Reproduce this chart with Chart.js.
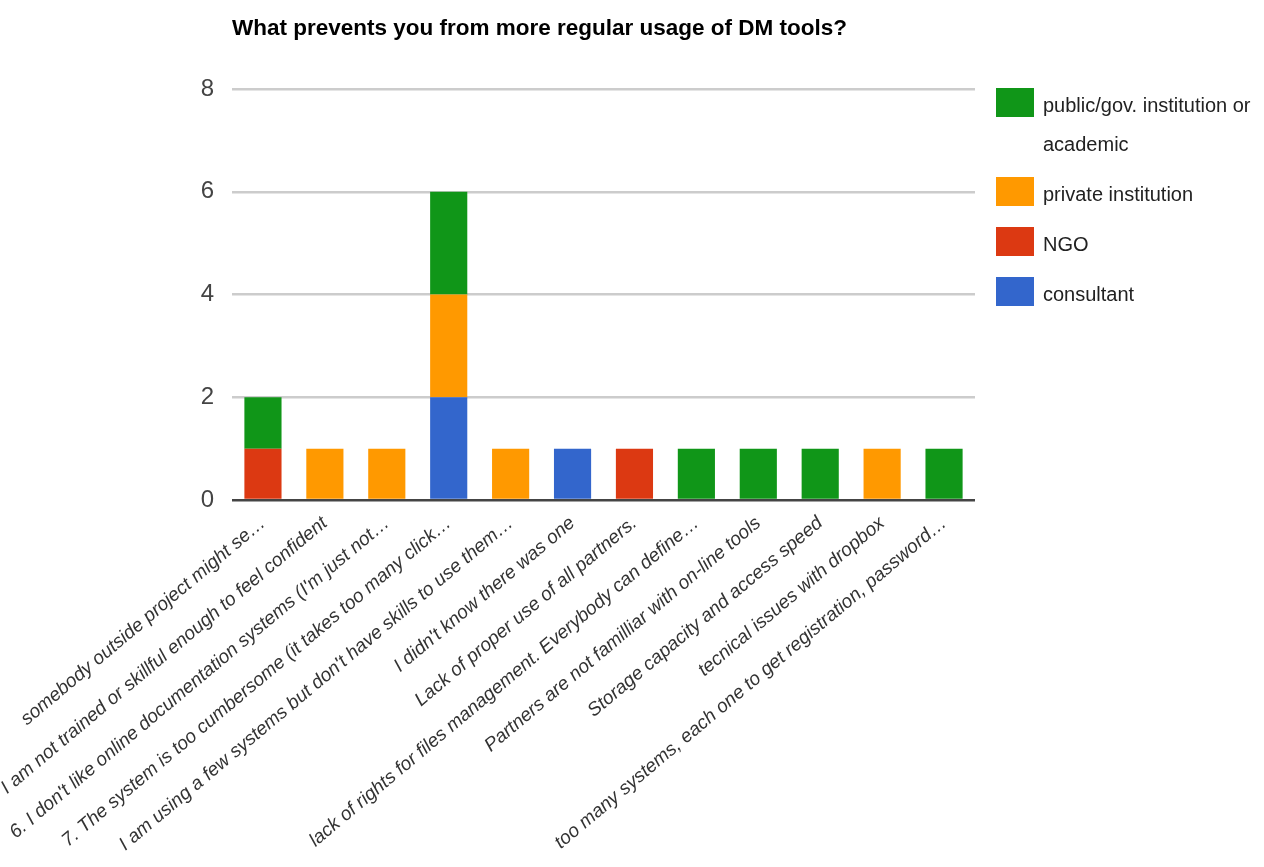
<!DOCTYPE html>
<html>
<head>
<meta charset="utf-8">
<script src="https://cdn.jsdelivr.net/npm/chart.js@4"></script>
<style>
  html, body { margin: 0; padding: 0; background: #fff; }
  #wrap { position: relative; width: 1264px; height: 867px; }
  #title {
    position: absolute; left: 232px; top: 15px;
    font: bold 22.5px "Liberation Sans", Arial, sans-serif;
    color: #000; white-space: nowrap;
  }
  #legend { position: absolute; left: 996px; top: 86px; width: 268px; }
  .item { position: relative; margin-bottom: 11px; }
  .box { position: absolute; left: 0; top: 2px; width: 38px; height: 29px; }
  .txt {
    margin-left: 47px; font: 20px "Liberation Sans", Arial, sans-serif;
    color: #222; line-height: 39px;
  }
</style>
</head>
<body>
<div id="wrap">
  <canvas id="chart" width="1264" height="867"></canvas>
  <div id="title">What prevents you from more regular usage of DM tools?</div>
  <div id="legend"></div>
</div>
<script>
// Chart data
const categories = [
    'somebody outside project might se…',
    'I am not trained or skillful enough to feel confident',
    '6. I don\'t like online documentation systems (I\'m just not…',
    '7. The system is too cumbersome (it takes too many click…',
    'I am using a few systems but don\'t have skills to use them…',
    'I didn\'t know there was one',
    'Lack of proper use of all partners.',
    'lack of rights for files management. Everybody can define…',
    'Partners are not familliar with on-line tools',
    'Storage capacity and access speed',
    'tecnical issues with dropbox',
    'too many systems, each one to get registration, password…'
];
const consultant = [0, 0, 0, 2, 0, 1, 0, 0, 0, 0, 0, 0];
const ngo        = [1, 0, 0, 0, 0, 0, 1, 0, 0, 0, 0, 0];
const privateInst = [0, 1, 1, 2, 1, 0, 0, 0, 0, 0, 1, 0];
const publicInst  = [1, 0, 0, 2, 0, 0, 0, 1, 1, 1, 0, 1];
const yTicks = [0, 2, 4, 6, 8];

const fontFamily = '"Liberation Sans", Arial, sans-serif';

// bottom to top stacking order; legend shows them reversed
const datasets = [
    { label: 'consultant', data: consultant, backgroundColor: '#3366cc' },
    { label: 'NGO', data: ngo, backgroundColor: '#dc3912' },
    { label: 'private institution', data: privateInst, backgroundColor: '#ff9900' },
    { label: 'public/gov. institution or academic', data: publicInst, backgroundColor: '#109618' }
];

// HTML legend (wraps long label like the original)
const legendEl = document.getElementById('legend');
datasets.slice().reverse().forEach(ds => {
    const item = document.createElement('div');
    item.className = 'item';
    item.innerHTML = `<div class="box" style="background:${ds.backgroundColor}"></div><div class="txt">${ds.label}</div>`;
    legendEl.appendChild(item);
});

const ctx = document.getElementById('chart').getContext('2d');
new Chart(ctx, {
    type: 'bar',
    data: {
        labels: categories,
        datasets: datasets.map(ds => Object.assign({
            barPercentage: 0.6,
            categoryPercentage: 1.0,
            borderWidth: 0
        }, ds))
    },
    options: {
        responsive: false,
        animation: false,
        layout: { padding: { top: 89, right: 289, left: 0, bottom: 0 } },
        plugins: {
            legend: { display: false },
            tooltip: { enabled: false }
        },
        scales: {
            x: {
                stacked: true,
                grid: { display: false },
                border: { display: false },
                ticks: {
                    autoSkip: false,
                    maxRotation: 40,
                    minRotation: 40,
                    padding: 4,
                    color: '#333',
                    font: { family: fontFamily, size: 19, style: 'italic' }
                },
                afterFit: scale => {
                    scale.height = 367;
                    scale.paddingLeft = 0;
                    scale.paddingRight = 0;
                }
            },
            y: {
                stacked: true,
                min: 0,
                max: 8,
                afterBuildTicks: scale => {
                    scale.ticks = yTicks.map(v => ({ value: v }));
                },
                border: { display: false },
                grid: {
                    color: c => c.tick && c.tick.value === 0 ? '#444' : '#cccccc',
                    lineWidth: 2.5,
                    drawTicks: false
                },
                ticks: {
                    padding: 18,
                    color: '#444',
                    font: { family: fontFamily, size: 24 }
                },
                afterFit: scale => {
                    scale.width = 232;
                }
            }
        }
    }
});
</script>
</body>
</html>
